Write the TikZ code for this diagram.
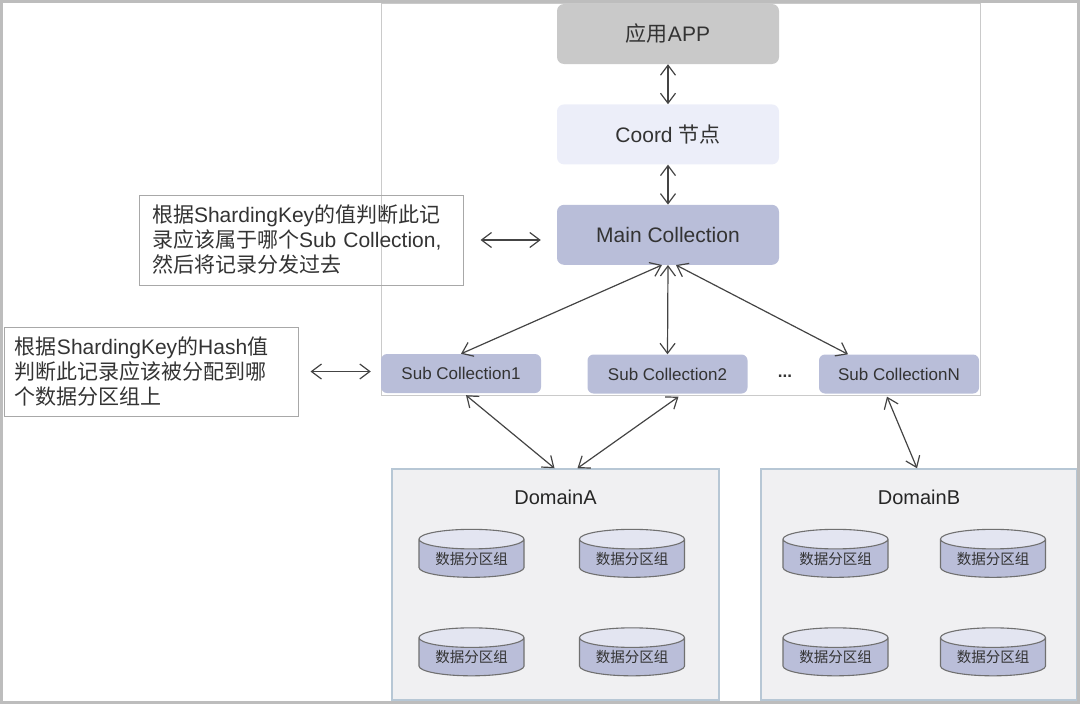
\documentclass[tikz,border=0pt]{standalone}
\usepackage{fontspec}
\setmainfont{Liberation Sans}
\newfontfamily\cjk{Noto Sans CJK SC}
\usetikzlibrary{shapes.geometric,arrows.meta,positioning}
\definecolor{appgray}{HTML}{C9C9C9}
\definecolor{coordblue}{HTML}{ECEEF9}
\definecolor{collblue}{HTML}{B9BED9}
\definecolor{cylbody}{HTML}{BABED9}
\definecolor{cyltop}{HTML}{E3E5F1}
\definecolor{cylline}{HTML}{707070}
\definecolor{domfill}{HTML}{F0F0F2}
\definecolor{domline}{HTML}{B7C7D5}
\definecolor{notegray}{HTML}{A8A8A8}
\definecolor{lined}{HTML}{444444}
\definecolor{framegray}{HTML}{BDBDBD}
\definecolor{txt}{HTML}{333333}
\newcommand{\zh}[1]{{\cjk #1}}

\begin{document}
\begin{tikzpicture}[x=1pt,y=-1pt,% pixel grid, y going down
			every node/.style={
				align=center,	% so that "\\" breaks a line
				text=txt
			},
			node distance=40pt,
			layer/.style={rectangle,rounded corners=7pt,minimum width=222pt,minimum height=60pt,
				font=\fontsize{21}{24}\selectfont},
			sub/.style={rectangle,rounded corners=6pt,fill=collblue,minimum width=160pt,minimum height=39pt,
				font=\fontsize{17}{20}\selectfont},
			note/.style={rectangle,draw=notegray,line width=1pt,align=left,inner xsep=13pt,
				font=\fontsize{21}{25}\selectfont},
			domainbox/.style={rectangle,draw=domline,fill=domfill,line width=1.5pt},
			part/.style={cylinder,shape border rotate=90,aspect=0.27,draw=cylline,line width=1.1pt,
				cylinder uses custom fill,cylinder body fill=cylbody,cylinder end fill=cyltop,
				minimum width=105pt,minimum height=48pt,inner sep=0pt,
				font=\cjk\fontsize{14.5}{16}\selectfont},
			every edge/.style={draw=lined,line width=1.2pt,
				{Straight Barb[length=10pt,width=15pt]}-{Straight Barb[length=10pt,width=15pt]}}
		]
		\useasboundingbox (0,0) rectangle (1080,704);
		% area of the collections
		\draw[framegray!80,line width=1pt] (381,3) rectangle (980,395);

		\node[layer,fill=appgray](app) at (668,34){\zh{应用}APP};
		\node[layer,fill=coordblue](coord)[below= of app]{Coord \zh{节点}};
		\node[layer,fill=collblue](main)[below= of coord]{Main Collection};

		\node[note,text width=298pt,minimum height=90pt](note1) at (301,240)
			{\zh{根据}ShardingKey\zh{的值判断此记}\\\zh{录应该属于哪个}Sub Collection,\\\zh{然后将记录分发过去}};
		\node[note,text width=272pt,inner xsep=11pt,minimum height=89pt](note2) at (151,371.5)
			{\zh{根据}ShardingKey\zh{的}Hash\zh{值}\\\zh{判断此记录应该被分配到哪}\\\zh{个数据分区组上}};

		\node[sub](sub1) at (461,373.5){Sub Collection1};
		\node[sub](sub2) at (667.5,374){Sub Collection2};
		\node[sub](subN) at (899,374){Sub CollectionN};
		\node[font=\bfseries\fontsize{17}{18}\selectfont](dots) at (785,376){...};

		\node[domainbox,minimum width=327pt,minimum height=231pt,
			label={[anchor=north,yshift=-18pt,font=\fontsize{20}{22}\selectfont,text=black!85]north:DomainA}](domA) at (555.5,584.5){};
		\node[domainbox,minimum width=316pt,minimum height=231pt,
			label={[anchor=north,yshift=-18pt,font=\fontsize{20}{22}\selectfont,text=black!85]north:DomainB}](domB) at (919,584.5){};

		% data partition groups
		\node[part](a1) at (471.5,558.5){数据分区组};
		\node[part](a2) at (632,558.5){数据分区组};
		\node[part](a3) at (471.5,657){数据分区组};
		\node[part](a4) at (632,657){数据分区组};
		\node[part](b1) at (835.5,558.5){数据分区组};
		\node[part](b2) at (993,558.5){数据分区组};
		\node[part](b3) at (835.5,657){数据分区组};
		\node[part](b4) at (993,657){数据分区组};

		\path
		(app)edge (coord)
		(coord)edge (main)
		(note1.east)edge [shorten <=17pt,shorten >=16pt] (note1.east -| main.west)
		(note2.east)edge [shorten <=12pt,shorten >=10pt] (note2.east -| sub1.west)
		([xshift=-6pt]main.south)edge (sub1.north)
		(main.south)edge (sub2.north)
		([xshift=8pt]main.south)edge ([xshift=-51pt]subN.north)
		([xshift=5pt,yshift=-2pt]sub1.south)edge ([xshift=-1pt]domA.north)
		([xshift=11pt,yshift=-3pt]sub2.south)edge ([xshift=22pt]domA.north)
		([xshift=-12pt,yshift=-3pt]subN.south)edge ([xshift=-2pt]domB.north)
		;

		% outer frame
		\draw[framegray,line width=3pt] (1.5,1.2) rectangle (1078.5,702);
	\end{tikzpicture}
\end{document}
